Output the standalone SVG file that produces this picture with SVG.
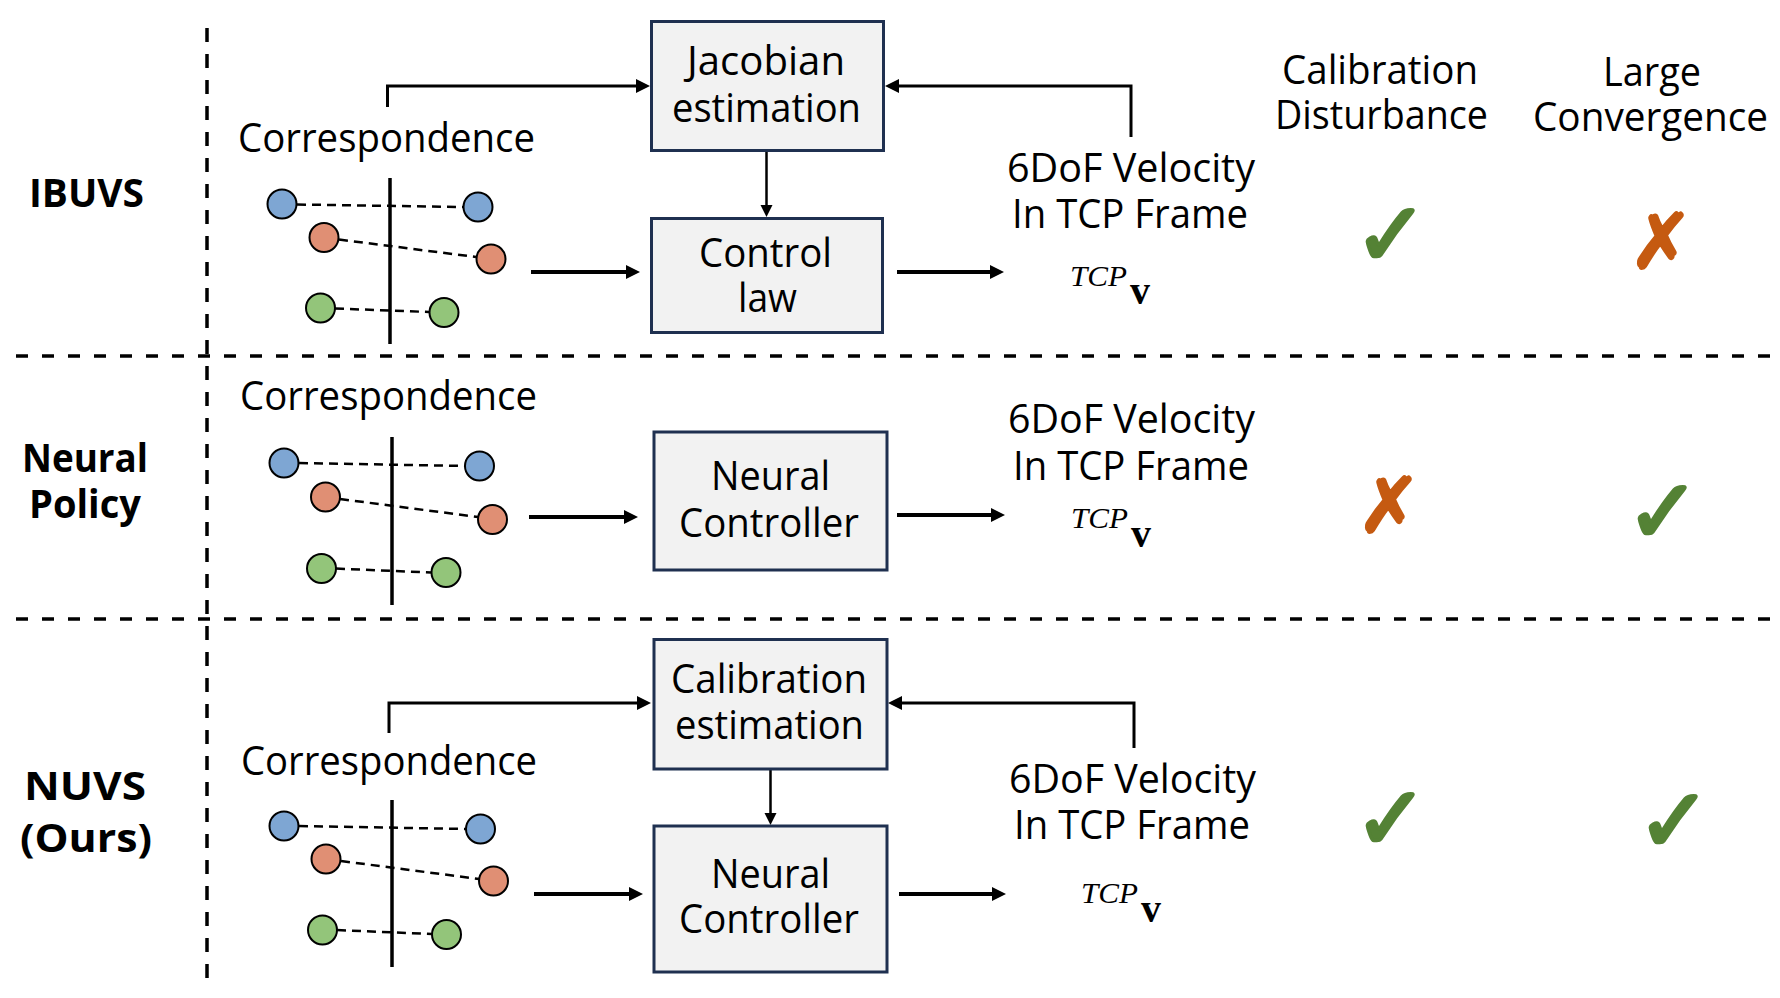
<svg xmlns="http://www.w3.org/2000/svg" width="1780" height="998" viewBox="0 0 1780 998">
<defs>
<style>
.t{font-family:"Open Sans","Noto Sans",sans-serif;font-size:40px;fill:#000}
.b{font-weight:bold}
.sep{stroke:#000;stroke-width:3.5;fill:none}
.box{fill:#f2f2f2;stroke:#1f3050;stroke-width:3}
.c{stroke:#000;stroke-width:2}
.cb{fill:#7ea6d3}.co{fill:#e08f74}.cg{fill:#93c57a}
.dl{stroke:#000;stroke-width:2.5;stroke-dasharray:9 6;fill:none}
.vl{stroke:#000;stroke-width:3.5}
.thick{stroke:#000;stroke-width:4;fill:none}
.fb{stroke:#000;stroke-width:3;fill:none}
.thin{stroke:#000;stroke-width:2.5;fill:none}
.it{font-family:"Liberation Serif",serif;font-style:italic;font-size:30px}
.bv{font-family:"Liberation Serif",serif;font-weight:bold;font-size:40px}
.ok{font-family:"DejaVu Sans",sans-serif;font-size:88px;fill:#548235;stroke:#548235;stroke-width:3.5;stroke-linejoin:round;text-anchor:middle}
.no{font-family:"DejaVu Sans",sans-serif;font-size:76px;fill:#c55a11;stroke:#c55a11;stroke-width:2.5;stroke-linejoin:round;text-anchor:middle}
</style>
<marker id="ah" markerUnits="userSpaceOnUse" markerWidth="16" markerHeight="16" refX="4" refY="7" orient="auto">
<path d="M0,0 L14,7 L0,14 z" fill="#000"/>
</marker>
<marker id="ahs" markerUnits="userSpaceOnUse" markerWidth="14" markerHeight="14" refX="3" refY="6" orient="auto">
<path d="M0,0 L12,6 L0,12 z" fill="#000"/>
</marker>
</defs>
<rect width="1780" height="998" fill="#fff"/>

<g id="separators">
<line class="sep" x1="207" y1="28" x2="207" y2="983" stroke-dasharray="14 12"/>
<line class="sep" x1="16" y1="356" x2="1780" y2="356" stroke-dasharray="12 14"/>
<line class="sep" x1="16" y1="619" x2="1780" y2="619" stroke-dasharray="12 14"/>
</g>

<g id="connectors">
<path class="fb" d="M387.5,107 V86 H640" marker-end="url(#ah)"/>
<path class="fb" d="M1131,137 V86 H895" marker-end="url(#ah)"/>
<path class="thin" d="M766.5,152 V208" marker-end="url(#ahs)"/>
<path class="thick" d="M531,272 H630" marker-end="url(#ah)"/>
<path class="thick" d="M897,272 H994" marker-end="url(#ah)"/>

<path class="thick" d="M529,517 H628" marker-end="url(#ah)"/>
<path class="thick" d="M897,515 H995" marker-end="url(#ah)"/>

<path class="fb" d="M389,733 V703 H641" marker-end="url(#ah)"/>
<path class="fb" d="M1134,748 V703 H898" marker-end="url(#ah)"/>
<path class="thin" d="M770.5,770 V816" marker-end="url(#ahs)"/>
<path class="thick" d="M534,894 H633" marker-end="url(#ah)"/>
<path class="thick" d="M899,894 H996" marker-end="url(#ah)"/>
</g>

<g id="label-ibuvs"><text class="t b" x="29" y="207" textLength="115" lengthAdjust="spacingAndGlyphs">IBUVS</text></g>
<g id="label-neural-policy">
<text class="t b" x="22" y="472" textLength="126" lengthAdjust="spacingAndGlyphs">Neural</text>
<text class="t b" x="29" y="518" textLength="112" lengthAdjust="spacingAndGlyphs">Policy</text>
</g>
<g id="label-nuvs">
<text class="t b" x="24" y="800" textLength="122" lengthAdjust="spacingAndGlyphs">NUVS</text>
<text class="t b" x="20" y="852" textLength="132" lengthAdjust="spacingAndGlyphs">(Ours)</text>
</g>

<g id="corr1">
<text class="t" x="238" y="152" textLength="297" lengthAdjust="spacingAndGlyphs">Correspondence</text>
<line class="vl" x1="390" y1="178" x2="390" y2="344"/>
<line class="dl" x1="297" y1="204.5" x2="463" y2="207"/>
<line class="dl" x1="339" y1="239.5" x2="476" y2="257"/>
<line class="dl" x1="335" y1="308.5" x2="429" y2="312"/>
<circle class="c cb" cx="282" cy="204" r="14.5"/>
<circle class="c cb" cx="478" cy="207" r="14.5"/>
<circle class="c co" cx="324" cy="237.5" r="14.5"/>
<circle class="c co" cx="491" cy="259" r="14.5"/>
<circle class="c cg" cx="320.5" cy="308" r="14.5"/>
<circle class="c cg" cx="444" cy="312.5" r="14.5"/>
</g>
<g id="corr2">
<text class="t" x="240" y="410" textLength="297" lengthAdjust="spacingAndGlyphs">Correspondence</text>
<line class="vl" x1="392" y1="437" x2="392" y2="605"/>
<line class="dl" x1="299" y1="463" x2="465" y2="466"/>
<line class="dl" x1="340" y1="499" x2="478" y2="517"/>
<line class="dl" x1="336" y1="568.5" x2="431" y2="572.5"/>
<circle class="c cb" cx="284" cy="463" r="14.5"/>
<circle class="c cb" cx="479.5" cy="466" r="14.5"/>
<circle class="c co" cx="325.5" cy="497" r="14.5"/>
<circle class="c co" cx="492.5" cy="519.5" r="14.5"/>
<circle class="c cg" cx="321.5" cy="568.5" r="14.5"/>
<circle class="c cg" cx="446" cy="572.5" r="14.5"/>
</g>
<g id="corr3">
<text class="t" x="241" y="775" textLength="296" lengthAdjust="spacingAndGlyphs">Correspondence</text>
<line class="vl" x1="392" y1="800" x2="392" y2="967"/>
<line class="dl" x1="299" y1="826" x2="466" y2="829"/>
<line class="dl" x1="341" y1="861" x2="479" y2="879"/>
<line class="dl" x1="337" y1="930" x2="432" y2="934"/>
<circle class="c cb" cx="284" cy="826" r="14.5"/>
<circle class="c cb" cx="480.5" cy="829" r="14.5"/>
<circle class="c co" cx="326" cy="859" r="14.5"/>
<circle class="c co" cx="493.5" cy="881" r="14.5"/>
<circle class="c cg" cx="322.5" cy="930" r="14.5"/>
<circle class="c cg" cx="446.5" cy="934.5" r="14.5"/>
</g>

<g id="box-jacobian">
<rect class="box" x="651.5" y="21.5" width="232" height="129"/>
<text class="t" x="687" y="75" textLength="158" lengthAdjust="spacingAndGlyphs">Jacobian</text>
<text class="t" x="672" y="122" textLength="189" lengthAdjust="spacingAndGlyphs">estimation</text>
</g>
<g id="box-control-law">
<rect class="box" x="651.5" y="218.5" width="231" height="114"/>
<text class="t" x="699" y="267" textLength="133" lengthAdjust="spacingAndGlyphs">Control</text>
<text class="t" x="738" y="312" textLength="59" lengthAdjust="spacingAndGlyphs">law</text>
</g>
<g id="box-neural-controller-2">
<rect class="box" x="654" y="432" width="233" height="138"/>
<text class="t" x="711" y="490" textLength="119" lengthAdjust="spacingAndGlyphs">Neural</text>
<text class="t" x="679" y="537" textLength="180" lengthAdjust="spacingAndGlyphs">Controller</text>
</g>
<g id="box-calibration">
<rect class="box" x="654" y="639.5" width="233" height="129.5"/>
<text class="t" x="671" y="693" textLength="196" lengthAdjust="spacingAndGlyphs">Calibration</text>
<text class="t" x="675" y="739" textLength="189" lengthAdjust="spacingAndGlyphs">estimation</text>
</g>
<g id="box-neural-controller-3">
<rect class="box" x="654" y="826" width="233" height="146"/>
<text class="t" x="711" y="888" textLength="119" lengthAdjust="spacingAndGlyphs">Neural</text>
<text class="t" x="679" y="933" textLength="180" lengthAdjust="spacingAndGlyphs">Controller</text>
</g>

<g id="out1">
<text class="t" x="1007" y="182" textLength="248" lengthAdjust="spacingAndGlyphs">6DoF Velocity</text>
<text class="t" x="1012" y="228" textLength="236" lengthAdjust="spacingAndGlyphs">In TCP Frame</text>
<text><tspan class="it" x="1070" y="286" textLength="57" lengthAdjust="spacingAndGlyphs">TCP</tspan><tspan class="bv" x="1130" y="304">v</tspan></text>
</g>
<g id="out2">
<text class="t" x="1008" y="433" textLength="247" lengthAdjust="spacingAndGlyphs">6DoF Velocity</text>
<text class="t" x="1013" y="480" textLength="236" lengthAdjust="spacingAndGlyphs">In TCP Frame</text>
<text><tspan class="it" x="1071" y="528" textLength="57" lengthAdjust="spacingAndGlyphs">TCP</tspan><tspan class="bv" x="1131" y="547">v</tspan></text>
</g>
<g id="out3">
<text class="t" x="1009" y="793" textLength="247" lengthAdjust="spacingAndGlyphs">6DoF Velocity</text>
<text class="t" x="1014" y="839" textLength="236" lengthAdjust="spacingAndGlyphs">In TCP Frame</text>
<text><tspan class="it" x="1081" y="903" textLength="57" lengthAdjust="spacingAndGlyphs">TCP</tspan><tspan class="bv" x="1141" y="922">v</tspan></text>
</g>

<g id="header-calibration">
<text class="t" x="1282" y="84" textLength="196" lengthAdjust="spacingAndGlyphs">Calibration</text>
<text class="t" x="1275" y="129" textLength="213" lengthAdjust="spacingAndGlyphs">Disturbance</text>
</g>
<g id="header-convergence">
<text class="t" x="1603" y="86" textLength="98" lengthAdjust="spacingAndGlyphs">Large</text>
<text class="t" x="1533" y="131" textLength="235" lengthAdjust="spacingAndGlyphs">Convergence</text>
</g>

<g id="marks">
<text class="ok" x="1391" y="265">✓</text>
<text class="no" x="1661" y="268">✗</text>
<text class="no" x="1389" y="532">✗</text>
<text class="ok" x="1663" y="542">✓</text>
<text class="ok" x="1391" y="849">✓</text>
<text class="ok" x="1674" y="851">✓</text>
</g>
</svg>
